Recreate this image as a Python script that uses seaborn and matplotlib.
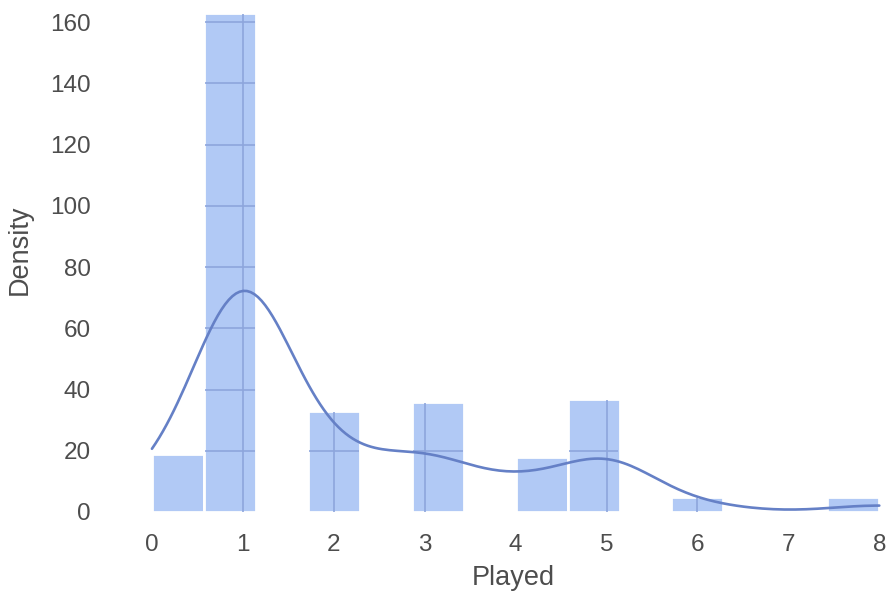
import numpy as np
import pandas as pd
import matplotlib
matplotlib.use('Agg')
import matplotlib.pyplot as plt
import seaborn as sns

# values of "Played" and how many rows have each value
played_values = [0, 1, 2, 3, 4, 5, 6, 8]
played_counts = [19, 163, 33, 36, 18, 37, 5, 5]

x_ticks = [0, 1, 2, 3, 4, 5, 6, 7, 8]
y_ticks = [0, 20, 40, 60, 80, 100, 120, 140, 160]

df = pd.DataFrame({'Played': np.repeat(played_values, played_counts)})

sns.set_style('white')
plt.rcParams['font.family'] = ['Liberation Sans', 'DejaVu Sans']

fig = plt.figure(figsize=(8.89, 5.97), dpi=100)
ax = fig.add_axes([0.130, 0.1424, 0.900, 0.877])

sns.histplot(data=df, x='Played', bins=14, kde=True, color='cornflowerblue',
             alpha=0.5, edgecolor='white', linewidth=2,
             kde_kws={'cut': 0}, line_kws={'linewidth': 1.9}, ax=ax)
ax.lines[0].set_color('#6580c6')

ax.set_xticks(x_ticks)
ax.set_yticks(y_ticks)
ax.set_ylim(0, 171)
ax.set_xlim(-0.4, 8.4)
sns.despine(ax=ax, left=True, bottom=True)

# grid lines show only inside the bars (kept off the white bar edges)
dx, dy = 0.012, 0.4
for bar in ax.patches:
    x0, w, h = bar.get_x(), bar.get_width(), bar.get_height()
    if h <= 0:
        continue
    ys = [y for y in y_ticks if 0 < y < h - dy]
    if ys:
        ax.hlines(ys, x0 + dx, x0 + w - dx, color='#8ea5dc', linewidth=1.2,
                  zorder=1.5)
    xs = [x for x in x_ticks if x0 + 0.02 < x < x0 + w - 0.02]
    if xs:
        ax.vlines(xs, 0, h - dy, color='#8ea5dc', linewidth=1.2, zorder=1.5)

ax.set_xlabel('Played', fontsize=19.5, color='0.3')
ax.set_ylabel('Density', fontsize=19.5, color='0.3')
ax.xaxis.set_label_coords(0.497, -0.101)
ax.yaxis.set_label_coords(-0.103, 0.5)
ax.tick_params(axis='both', labelsize=17.5, colors='0.3', length=0)
ax.tick_params(axis='x', pad=16)
ax.tick_params(axis='y', pad=18)

fig.savefig('out.png', dpi=100)
